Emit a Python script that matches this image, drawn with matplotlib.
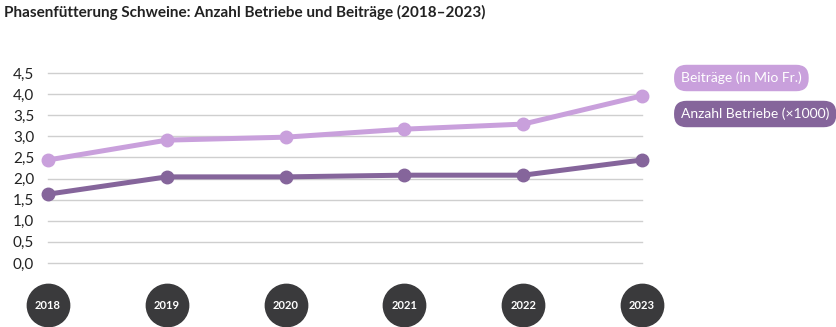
import matplotlib.pyplot as plt

years = ['2018', '2019', '2020', '2021', '2022', '2023']
beitraege = [2.44, 2.91, 2.98, 3.17, 3.29, 3.96]
betriebe = [1.63, 2.04, 2.04, 2.08, 2.08, 2.44]
yticks = [0.0, 0.5, 1.0, 1.5, 2.0, 2.5, 3.0, 3.5, 4.0, 4.5]

light = '#c9a0dc'
dark = '#85659b'

plt.rcParams['font.family'] = ['Lato', 'DejaVu Sans']

W, H = 836, 327
fig = plt.figure(figsize=(W / 100, H / 100), dpi=100)
ax = fig.add_axes([48 / W, (H - 263) / H, (642 - 48) / W, (263 - 73) / H])

x = list(range(len(years)))
ax.set_xlim(0, len(years) - 1)
ax.set_ylim(0, 4.5)
for v in yticks:
    ax.axhline(v, color='#cfcfcf', lw=1, zorder=0, clip_on=False)

ax.plot(x, beitraege, color=light, lw=3.6, marker='o', ms=9, clip_on=False, zorder=3)
ax.plot(x, betriebe, color=dark, lw=3.6, marker='o', ms=9, clip_on=False, zorder=3)

ax.set_yticks(yticks)
ax.set_yticklabels([f'{v:.1f}'.replace('.', ',') for v in yticks], fontsize=11, color='#222222')
ax.tick_params(axis='y', length=0, pad=10)
ax.set_xticks([])
for s in ax.spines.values():
    s.set_visible(False)

# year badges below the axis
ax.scatter(x, [-1.0] * len(x), s=930, color='#3a3a3c', clip_on=False, zorder=3)
for xi, yr in zip(x, years):
    ax.text(xi, -1.0, yr, color='white', fontsize=8, fontweight='bold',
            ha='center', va='center', clip_on=False)

fig.text(4 / W, 1 - 12 / H, 'Phasenfütterung Schweine: Anzahl Betriebe und Beiträge (2018–2023)',
         fontsize=11, fontweight='bold', color='#222222', va='center')

fig.text(681 / W, 1 - 78 / H, 'Beiträge (in Mio Fr.)', fontsize=10, color='white', va='center',
         bbox=dict(boxstyle='round,pad=0.5,rounding_size=0.9', fc=light, ec='none'))
fig.text(681 / W, 1 - 114 / H, 'Anzahl Betriebe (×1000)', fontsize=10, color='white', va='center',
         bbox=dict(boxstyle='round,pad=0.5,rounding_size=0.9', fc=dark, ec='none'))

fig.savefig('out.png', dpi=100)
